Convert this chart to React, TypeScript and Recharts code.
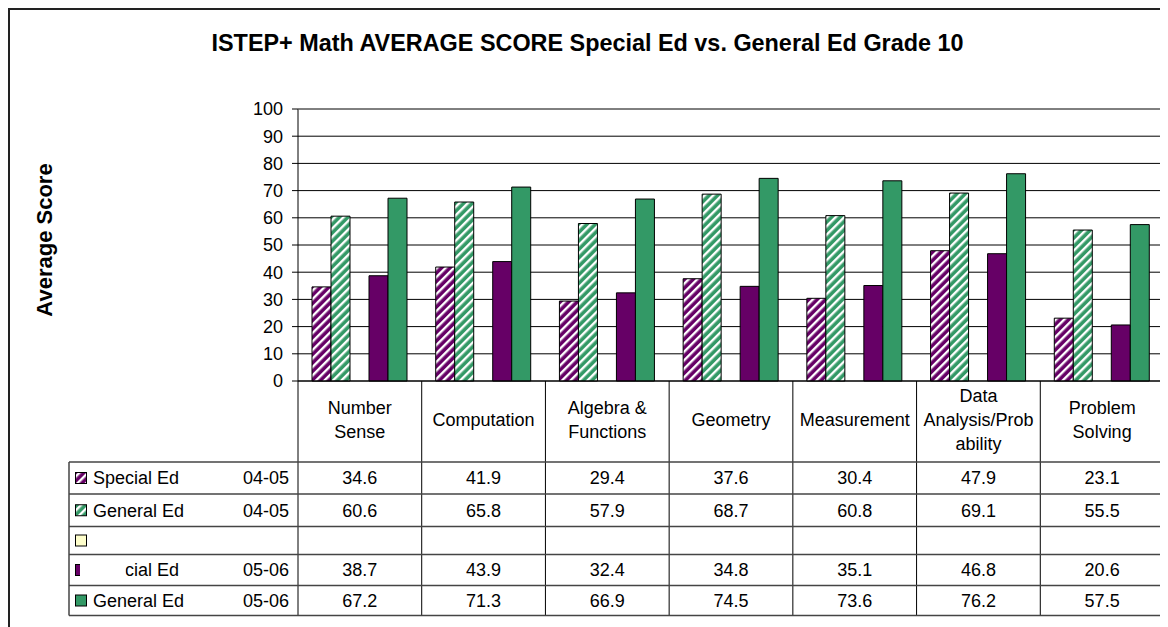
import React from "react";
import { BarChart, Bar, XAxis, YAxis, CartesianGrid } from "recharts";

const categories = [
  "Number\nSense",
  "Computation",
  "Algebra &\nFunctions",
  "Geometry",
  "Measurement",
  "Data\nAnalysis/Prob\nability",
  "Problem\nSolving",
];
const specialEd0405 = [34.6, 41.9, 29.4, 37.6, 30.4, 47.9, 23.1];
const generalEd0405 = [60.6, 65.8, 57.9, 68.7, 60.8, 69.1, 55.5];
const specialEd0506 = [38.7, 43.9, 32.4, 34.8, 35.1, 46.8, 20.6];
const generalEd0506 = [67.2, 71.3, 66.9, 74.5, 73.6, 76.2, 57.5];
const yTicks = [0, 10, 20, 30, 40, 50, 60, 70, 80, 90, 100];

const PURPLE = "#660066";
const GREEN = "#339966";
const FONT = "Arial, 'Liberation Sans', sans-serif";

const W = 1160;
const H = 619;
const MARGIN = { top: 101, right: 4, left: 230, bottom: 6 };
const Y_AXIS_W = 60;
const X_AXIS_H = 240;
const PLOT_LEFT = MARGIN.left + Y_AXIS_W;
const PLOT_RIGHT = W - MARGIN.right;
const PLOT_TOP = MARGIN.top;
const PLOT_BOTTOM = H - MARGIN.bottom - X_AXIS_H;
const BAND = (PLOT_RIGHT - PLOT_LEFT) / categories.length;

// table rows under the plot (top edge of each row, plus the bottom)
const HEADER_MID = 412;
const ROW_EDGES = [454, 486, 518.5, 546.5, 577.5, 607.5];
const TABLE_LEFT = 61;

const rows = [
  { key: "sp0405", name: "Special Ed", year: "04-05", values: specialEd0405 },
  { key: "ge0405", name: "General Ed", year: "04-05", values: generalEd0405 },
  { key: "blank", name: "", year: "", values: [] as number[] },
  { key: "sp0506", name: "Special Ed", year: "05-06", values: specialEd0506 },
  { key: "ge0506", name: "General Ed", year: "05-06", values: generalEd0506 },
];

const fills: Record<string, string> = {
  sp0405: "url(#hatchPurple)",
  ge0405: "url(#hatchGreen)",
  blank: "#FFFFCC",
  sp0506: PURPLE,
  ge0506: GREEN,
};

const data = categories.map((c, i) => ({
  category: c,
  sp0405: specialEd0405[i],
  ge0405: generalEd0405[i],
  blank: null,
  sp0506: specialEd0506[i],
  ge0506: generalEd0506[i],
}));

function TableTick(props: any) {
  const { x, index, payload } = props;
  const half = BAND / 2;
  const lines = String(payload.value).split("\n");
  const firstBase = HEADER_MID - ((lines.length - 1) * 24) / 2 + 6.4;
  return (
    <g fontFamily={FONT} fontSize={18} fill="#000">
      <line x1={x - half} x2={x - half} y1={PLOT_BOTTOM} y2={ROW_EDGES[ROW_EDGES.length - 1]} stroke="#000" />
      {index === categories.length - 1 && (
        <line x1={x + half} x2={x + half} y1={PLOT_BOTTOM} y2={ROW_EDGES[ROW_EDGES.length - 1]} stroke="#000" />
      )}
      <text textAnchor="middle">
        {lines.map((l, k) => (
          <tspan key={k} x={x} y={firstBase + k * 24}>{l}</tspan>
        ))}
      </text>
      {rows.map((r, ri) =>
        r.values.length ? (
          <text key={r.key} x={x} y={(ROW_EDGES[ri] + ROW_EDGES[ri + 1]) / 2 + 6.4} textAnchor="middle">
            {r.values[index].toFixed(1)}
          </text>
        ) : null
      )}
    </g>
  );
}

function Overlay() {
  return (
    <svg width={W} height={H} style={{ position: "absolute", left: 0, top: 0, pointerEvents: "none" }}>
      {/* outer frame */}
      <line x1={1} x2={1} y1={0} y2={H} stroke="#222" strokeWidth={2} />
      <line x1={0} x2={W} y1={1} y2={1} stroke="#222" strokeWidth={2} />
      <text x={579.5} y={42.5} textAnchor="middle" fontFamily={FONT} fontSize={23.4} fontWeight="bold">
        ISTEP+ Math AVERAGE SCORE Special Ed vs. General Ed Grade 10
      </text>
      <text x={44} y={232} transform="rotate(-90, 44, 232)" textAnchor="middle" fontFamily={FONT} fontSize={22} fontWeight="bold">
        Average Score
      </text>
      {/* plot border */}
      <line x1={PLOT_LEFT} x2={PLOT_RIGHT} y1={PLOT_TOP} y2={PLOT_TOP} stroke="#808080" />
      <line x1={PLOT_RIGHT} x2={PLOT_RIGHT} y1={PLOT_TOP} y2={PLOT_BOTTOM} stroke="#808080" />
      {/* data table */}
      {ROW_EDGES.map((y) => (
        <line key={y} x1={TABLE_LEFT} x2={PLOT_RIGHT} y1={y} y2={y} stroke="#444" strokeWidth={1.5} />
      ))}
      <line x1={TABLE_LEFT} x2={TABLE_LEFT} y1={ROW_EDGES[0]} y2={ROW_EDGES[ROW_EDGES.length - 1]} stroke="#444" strokeWidth={1.5} />
      {rows.map((r, ri) => {
        const mid = (ROW_EDGES[ri] + ROW_EDGES[ri + 1]) / 2;
        return (
          <g key={r.key} fontFamily={FONT} fontSize={18}>
            <rect x={67.5} y={mid - 5.5} width={11} height={11} fill={fills[r.key]} stroke="#000" />
            <text x={85} y={mid + 6.4}>{r.name}</text>
            <text x={281} y={mid + 6.4} textAnchor="end">{r.year}</text>
            {r.key === "sp0506" && <rect x={72} y={mid - 10} width={45.5} height={20} fill="#fff" />}
          </g>
        );
      })}
    </svg>
  );
}

export default function App() {
  return (
    <div style={{ position: "relative", width: W, height: H, overflow: "hidden", fontFamily: FONT }}>
      <svg width={0} height={0} style={{ position: "absolute" }}>
        <defs>
          <pattern id="hatchPurple" width={6} height={6} patternUnits="userSpaceOnUse" patternTransform="rotate(45)">
            <rect width={6} height={6} fill={PURPLE} />
            <rect width={2.4} height={6} fill="#fff" />
          </pattern>
          <pattern id="hatchGreen" width={6} height={6} patternUnits="userSpaceOnUse" patternTransform="rotate(45)">
            <rect width={6} height={6} fill={GREEN} />
            <rect width={2.4} height={6} fill="#fff" />
          </pattern>
        </defs>
      </svg>
      <BarChart width={W} height={H} data={data} margin={MARGIN} barGap={0} barCategoryGap={14}>
        <CartesianGrid horizontal vertical={false} stroke="#000" />
        <XAxis
          dataKey="category"
          height={X_AXIS_H}
          interval={0}
          tickLine={false}
          axisLine={{ stroke: "#000" }}
          tick={<TableTick />}
        />
        <YAxis
          width={Y_AXIS_W}
          domain={[0, 100]}
          ticks={yTicks}
          interval={0}
          tickSize={6}
          tickMargin={9}
          axisLine={{ stroke: "#000" }}
          tickLine={{ stroke: "#000" }}
          tick={{ fontSize: 18, fill: "#000", fontFamily: FONT }}
        />
        {rows.map((r) => (
          <Bar key={r.key} dataKey={r.key} fill={fills[r.key]} stroke="#000" strokeWidth={1} isAnimationActive={false} />
        ))}
      </BarChart>
      <Overlay />
    </div>
  );
}
